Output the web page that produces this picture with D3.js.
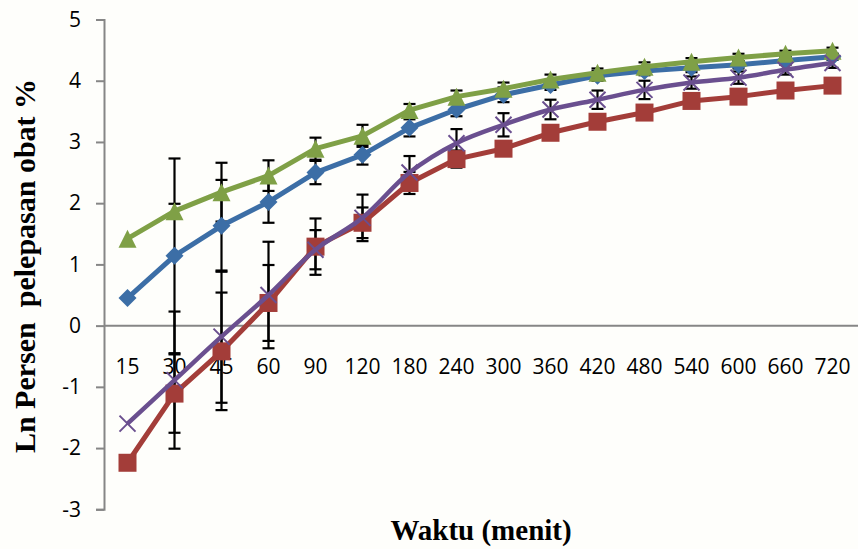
<!DOCTYPE html>
<html>
<head>
<meta charset="utf-8">
<script src="https://cdn.jsdelivr.net/npm/d3@7/dist/d3.min.js"></script>
<style>
  html, body { margin: 0; padding: 0; background: #fefefb; }
  svg { display: block; }
</style>
</head>
<body>
<svg id="chart" width="858" height="549"></svg>
<script>
// Sampling times (minutes) shown as category labels
const categories = ["15","30","45","60","90","120","180","240","300","360","420","480","540","600","660","720"];

// Ln of percent drug released, one array per formula
const seriesBlue   = [0.45, 1.14, 1.63, 2.02, 2.50, 2.79, 3.23, 3.53, 3.77, 3.93, 4.08, 4.16, 4.21, 4.26, 4.33, 4.39];
const seriesRed    = [-2.24, -1.11, -0.42, 0.37, 1.29, 1.68, 2.33, 2.72, 2.89, 3.15, 3.33, 3.48, 3.67, 3.74, 3.84, 3.92];
const seriesGreen  = [1.42, 1.87, 2.18, 2.45, 2.89, 3.10, 3.52, 3.74, 3.87, 4.02, 4.13, 4.23, 4.31, 4.38, 4.44, 4.49];
const seriesPurple = [-1.60, -0.89, -0.18, 0.50, 1.24, 1.76, 2.50, 2.98, 3.28, 3.53, 3.69, 3.85, 3.97, 4.05, 4.18, 4.29];

// Standard deviations (error bar half-lengths)
const errBlue   = [0, 1.59, 0.75, 0.34, 0.19, 0.16, 0.14, 0.11, 0.12, 0.08, 0.08, 0.07, 0.07, 0.06, 0.06, 0.05];
const errRed    = [0, 0.64, 0.96, 0.62, 0.46, 0.25, 0.18, 0.14, 0.10, 0.10, 0.10, 0.08, 0.08, 0.07, 0.06, 0.06];
const errGreen  = [0, 0.12, 0.48, 0.25, 0.18, 0.18, 0.10, 0.10, 0.10, 0.08, 0.07, 0.07, 0.06, 0.06, 0.05, 0.05];
const errPurple = [0, 1.12, 1.08, 0.87, 0.32, 0.38, 0.27, 0.23, 0.19, 0.16, 0.15, 0.15, 0.10, 0.10, 0.08, 0.08];

const yTicks = [-3, -2, -1, 0, 1, 2, 3, 4, 5];

const svg = d3.select("#chart");

const x = d3.scaleBand().domain(categories).range([104, 856]);
const y = d3.scaleLinear().domain([-3, 5]).range([509.3, 19.5]);
const cx = d => x(d) + x.bandwidth() / 2;

// Y axis
const yAxis = svg.append("g")
  .attr("transform", "translate(104,0)")
  .call(d3.axisLeft(y).tickValues(yTicks).tickSize(8).tickPadding(15).tickFormat(d => String(d)));
yAxis.select(".domain").attr("stroke", "#868686").attr("stroke-width", 2);
yAxis.selectAll(".tick line").attr("stroke", "#868686").attr("stroke-width", 2);
yAxis.selectAll(".tick text")
  .attr("font-family", "'Open Sans', sans-serif")
  .attr("font-size", 21)
  .attr("fill", "#000");

// X axis along y = 0
const xAxis = svg.append("g")
  .attr("transform", `translate(0,${y(0)})`)
  .call(d3.axisBottom(x).tickSize(0).tickPadding(33).tickSizeOuter(0));
xAxis.select(".domain").attr("stroke", "#868686").attr("stroke-width", 2)
  .attr("d", `M104,0H858`);
xAxis.selectAll(".tick text")
  .attr("font-family", "'Open Sans', sans-serif")
  .attr("font-size", 21)
  .attr("fill", "#000");

const series = [
  { name: "blue",   values: seriesBlue,   err: errBlue,   color: "#3c6ea6", marker: "diamond",  curve: d3.curveLinear },
  { name: "red",    values: seriesRed,    err: errRed,    color: "#a33d39", marker: "square",   curve: d3.curveLinear },
  { name: "green",  values: seriesGreen,  err: errGreen,  color: "#7fa046", marker: "triangle", curve: d3.curveLinear },
  { name: "purple", values: seriesPurple, err: errPurple, color: "#6a4f8f", marker: "x",        curve: d3.curveCatmullRom.alpha(0.5) }
];

// Error bars
const eb = svg.append("g").attr("stroke", "#000").attr("stroke-width", 2.2);
series.forEach(s => {
  s.values.forEach((v, i) => {
    const e = s.err[i];
    if (!e) return;
    const px = cx(categories[i]);
    const y1 = y(v + e), y2 = y(v - e);
    eb.append("line").attr("x1", px).attr("x2", px).attr("y1", y1).attr("y2", y2);
    eb.append("line").attr("x1", px - 6).attr("x2", px + 6).attr("y1", y1).attr("y2", y1);
    eb.append("line").attr("x1", px - 6).attr("x2", px + 6).attr("y1", y2).attr("y2", y2);
  });
});

// Lines and markers
series.forEach(s => {
  const pts = s.values.map((v, i) => [cx(categories[i]), y(v)]);
  const g = svg.append("g").attr("class", "series-" + s.name);
  g.append("path")
    .attr("d", d3.line().curve(s.curve)(pts))
    .attr("fill", "none")
    .attr("stroke", s.color)
    .attr("stroke-width", s.marker === "x" ? 4.5 : 5)
    .attr("stroke-linejoin", "round");
  pts.forEach(([px, py]) => {
    if (s.marker === "diamond") {
      const r = 9;
      g.append("path").attr("d", `M${px},${py - r}L${px + r},${py}L${px},${py + r}L${px - r},${py}Z`).attr("fill", s.color);
    } else if (s.marker === "square") {
      const h = 9;
      g.append("rect").attr("x", px - h).attr("y", py - h).attr("width", 2 * h).attr("height", 2 * h).attr("fill", s.color);
    } else if (s.marker === "triangle") {
      const h = 9;
      g.append("path").attr("d", `M${px},${py - h}L${px + h},${py + h}L${px - h},${py + h}Z`).attr("fill", s.color);
    } else {
      const h = 8;
      g.append("path").attr("d", `M${px - h},${py - h}L${px + h},${py + h}M${px - h},${py + h}L${px + h},${py - h}`)
        .attr("stroke", s.color).attr("stroke-width", 2);
    }
  });
});

// Axis titles
svg.append("text")
  .attr("transform", "translate(35,266) rotate(-90)")
  .attr("text-anchor", "middle")
  .attr("font-family", "'Liberation Serif', 'Times New Roman', serif")
  .attr("font-weight", "bold")
  .attr("font-size", 30)
  .style("white-space", "pre")
  .text("Ln Persen  pelepasan obat %");

svg.append("text")
  .attr("x", 481)
  .attr("y", 540)
  .attr("text-anchor", "middle")
  .attr("font-family", "'Liberation Serif', 'Times New Roman', serif")
  .attr("font-weight", "bold")
  .attr("font-size", 29)
  .text("Waktu (menit)");
</script>
</body>
</html>
